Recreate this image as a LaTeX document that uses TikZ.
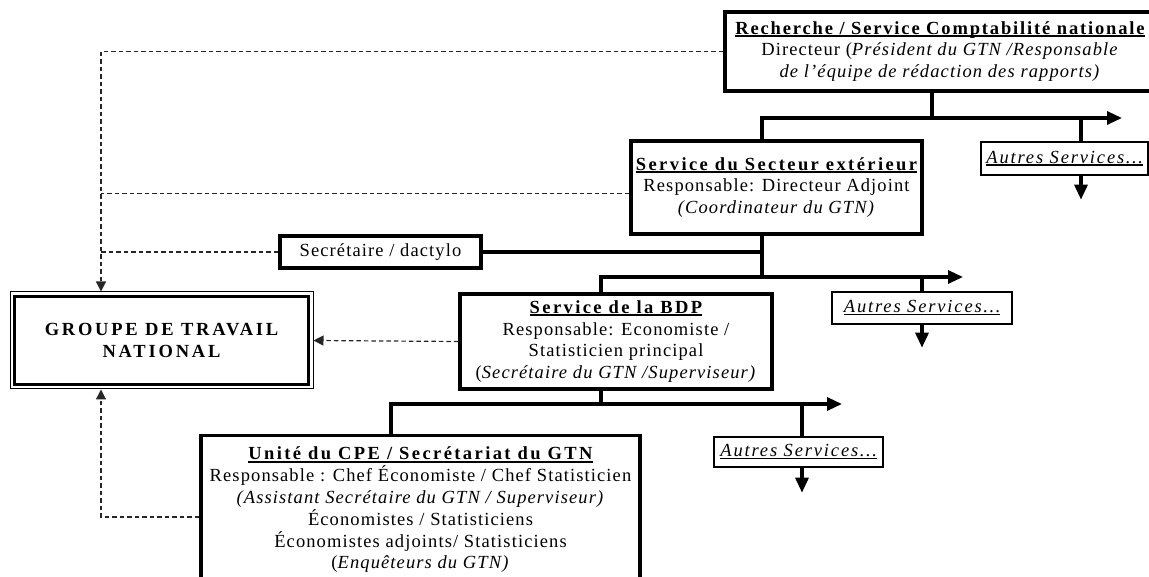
\documentclass[tikz,border=0pt]{standalone}
\usepackage{fontspec}
\setmainfont{Liberation Serif}[LetterSpace=6]
\newfontfamily\wide{Liberation Serif}[LetterSpace=13]
\newfontfamily\wider{Liberation Serif}[LetterSpace=15]
\newfontfamily\autresfont{Liberation Serif}[LetterSpace=10]
\usetikzlibrary{arrows.meta}
\newcommand\titleline[1]{\setbox0\hbox{#1}\rlap{\rule[-2.6pt]{\wd0}{1.8pt}}\box0}

\begin{document}
\begin{tikzpicture}[x=1pt, y=1pt, every text node part/.style={align=center},
  font=\fontsize{18.5}{21.8}\selectfont,
  servicebox/.style={draw, line width=3.2pt, inner sep=0pt},
  autresbox/.style={draw, line width=1.3pt, inner sep=0pt},
  trunk/.style={line width=3.2pt},
  trunkarrow/.style={line width=3.2pt, -{Triangle[length=15pt,width=13pt]}},
  dashline/.style={line width=1.2pt, dash pattern=on 4.5pt off 3pt, black!85},
  dasharrow/.style={dashline, -{Triangle[length=10pt,width=10pt]}}]
\useasboundingbox (0,0) rectangle (1149,576);

\node (comptabilite nationale) [servicebox, minimum width=430, minimum height=79] at (940,524.5) {\titleline{\autresfont\bfseries Recherche / Service Comptabilité nationale}\\
  Directeur (\textit{Président du GTN /Responsable}\\ \textit{de l’équipe de rédaction des rapports)}};
\node (secteur exterieur) [servicebox, minimum width=291, minimum height=93] at (776.5,388.5) {\titleline{\wide\bfseries Service du Secteur extérieur}\\
  Responsable: Directeur Adjoint\\ \textit{(Coordinateur du GTN)}};
\node (autres services 1) [autresbox, minimum width=167, minimum height=33] at (1064.5,417.5) {\titleline{\autresfont\itshape Autres Services…}};
\node (secretaire) [servicebox, minimum width=201, minimum height=32] at (380.5,324) {Secrétaire / dactylo};
\node (groupe de travail) [draw, line width=1pt, minimum width=303, minimum height=97] at (161.5,235.5) {{\wider\bfseries GROUPE DE TRAVAIL}\\ {\wider\bfseries NATIONAL}};
\draw [line width=3.4pt] ([shift={(5,-5)}]groupe de travail.north west) rectangle ([shift={(-5,5)}]groupe de travail.south east);
\node (service bdp) [servicebox, minimum width=312, minimum height=95] at (616,234.5) {\titleline{\wide\bfseries Service de la BDP}\\
  Responsable: Economiste /\\ Statisticien principal\\ (\textit{Secrétaire du GTN /Superviseur)}};
\node (autres services 2) [autresbox, minimum width=180, minimum height=32] at (922,268) {\titleline{\autresfont\itshape Autres Services…}};
\node (unite cpe) [servicebox, minimum width=439, minimum height=149] at (420.5,66) {\titleline{\wide\bfseries Unité du CPE / Secrétariat du GTN}\\
  Responsable : Chef Économiste / Chef Statisticien\\ \textit{(Assistant Secrétaire du GTN / Superviseur)}\\
  Économistes / Statisticiens\\ Économistes adjoints/ Statisticiens\\ (\textit{Enquêteurs du GTN)}};
\node (autres services 3) [autresbox, minimum width=169, minimum height=30] at (798.5,124) {\titleline{\autresfont\itshape Autres Services…}};

\coordinate (bus1w) at (762,458);
\coordinate (bus1e) at (1122,458);
\coordinate (bus2w) at (601,299);
\coordinate (bus2e) at (963,299);
\coordinate (bus3w) at (391,172);
\coordinate (bus3e) at (842,172);
\coordinate (rail) at (101,0);

\draw [trunk] ([xshift=-8pt]comptabilite nationale.south) -- ([xshift=-8pt]comptabilite nationale.south |- bus1w);
\draw [trunkarrow] (bus1w |- secteur exterieur.north) -- (bus1w) -- (bus1e);
\draw [trunk] ([xshift=16.5pt]autres services 1.north) -- ([xshift=16.5pt]autres services 1.north |- bus1w);
\draw [trunkarrow] ([xshift=16.5pt]autres services 1.south) -- ++(0,-24) coordinate (down1);

\draw [trunk] ([xshift=-14.5pt]secteur exterieur.south) -- ([xshift=-14.5pt]secteur exterieur.south |- bus2w);
\draw [trunk] (secretaire.east) -- (secretaire.east -| bus1w);
\draw [trunkarrow] (bus2w |- service bdp.north) -- (bus2w) -- (bus2e);
\draw [trunk] (autres services 2.north) -- (autres services 2.north |- bus2w);
\draw [trunkarrow] (autres services 2.south) -- ++(0,-23) coordinate (down2);

\draw [trunk] ([xshift=-15pt]service bdp.south) -- (bus2w |- bus3w);
\draw [trunkarrow] (bus3w |- unite cpe.north) -- (bus3w) -- (bus3e);
\draw [trunk] ([xshift=3.5pt]autres services 3.north) -- ([xshift=3.5pt]autres services 3.north |- bus3w);
\draw [trunkarrow] ([xshift=3.5pt]autres services 3.south) -- ++(0,-25) coordinate (down3);

\draw [dasharrow] (comptabilite nationale.west) -| (rail |- groupe de travail.north);
\draw [dashline] ([yshift=-6pt]secteur exterieur.west) -- ([yshift=-6pt]secteur exterieur.west -| rail);
\draw [dashline] (secretaire.west) -- (secretaire.west -| rail);
\draw [dasharrow] (service bdp.west) -- (groupe de travail.east);
\draw [dasharrow] ([yshift=-7pt]unite cpe.west) -| (rail |- groupe de travail.south);

\end{tikzpicture}
\end{document}
